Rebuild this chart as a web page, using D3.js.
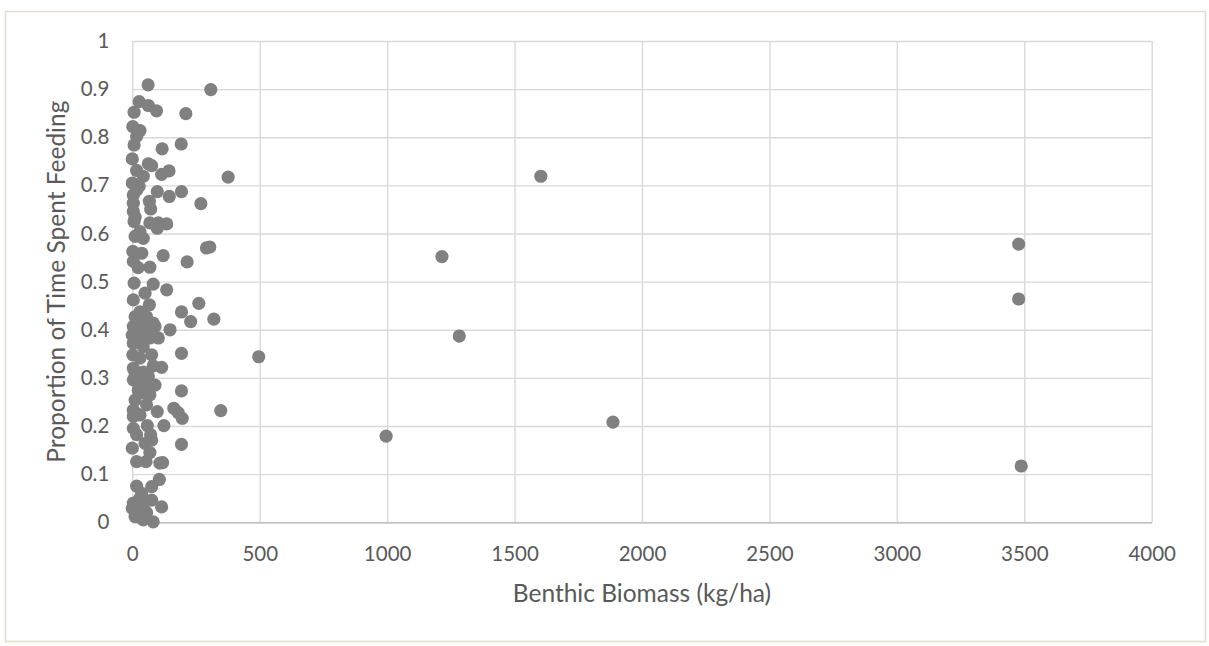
<!DOCTYPE html>
<html>
<head>
<meta charset="utf-8">
<script src="https://cdn.jsdelivr.net/npm/d3@7/dist/d3.min.js"></script>
<style>
  html, body { margin: 0; padding: 0; background: #ffffff; }
  svg { display: block; }
  text { font-family: Lato, "Open Sans", sans-serif; fill: #595959; }
</style>
</head>
<body>
<svg id="chart" width="1209" height="646"></svg>
<script>
// Benthic biomass (kg/ha) at each observation
const biomass = [
  62, 308, 27, 63, 95, 7, 210, 2, 30, 17, 7, 117, 192, 0, 63, 76, 17, 144, 115, 43,
  376, 0, 27, 98, 193, 145, 4, 269, 4, 67, 72, 4, 7, 69, 102, 135, 98, 11, 43, 291,
  304, 2, 37, 121, 215, 4, 23, 69, 7, 82,
  135, 50, 4, 67, 261, 193, 229, 320, 11, 56, 82, 4, 148, 50, 0, 102, 30, 69, 4, 43,
  193, 496, 2, 76, 30, 115, 82, 4, 11, 4, 43, 89, 63, 193, 23, 69, 11, 56, 4, 98,
  163, 180, 196, 347, 30, 4, 59, 124, 4, 17, 72, 193, 50, 76, 0, 69, 17, 54, 108, 119,
  106, 17, 76, 37, 76, 4, 43, 115, 0, 30, 11, 43, 82,
  30, 63, 37, 56, 17, 89, 43, 63, 30, 50, 17, 11, 30, 30, 56, 17,
  1603, 1215, 1283, 996, 1886, 3478, 3478, 3488
];

// Proportion of time spent feeding for the same observations
const feeding = [
  0.909, 0.899, 0.874, 0.866, 0.855, 0.852, 0.849, 0.822, 0.814, 0.802, 0.784, 0.776, 0.786, 0.755, 0.745, 0.741, 0.731, 0.730, 0.723, 0.719,
  0.717, 0.705, 0.698, 0.687, 0.687, 0.677, 0.680, 0.662, 0.663, 0.667, 0.651, 0.646, 0.625, 0.622, 0.622, 0.620, 0.611, 0.594, 0.590, 0.570,
  0.572, 0.563, 0.559, 0.554, 0.541, 0.542, 0.529, 0.530, 0.497, 0.495,
  0.483, 0.476, 0.462, 0.452, 0.455, 0.437, 0.417, 0.422, 0.427, 0.427, 0.414, 0.407, 0.400, 0.400, 0.389, 0.383, 0.379, 0.383, 0.372, 0.365,
  0.351, 0.344, 0.348, 0.348, 0.341, 0.322, 0.325, 0.320, 0.310, 0.296, 0.299, 0.285, 0.279, 0.273, 0.275, 0.265, 0.254, 0.244, 0.233, 0.230,
  0.237, 0.228, 0.216, 0.232, 0.223, 0.220, 0.201, 0.201, 0.195, 0.182, 0.182, 0.162, 0.164, 0.171, 0.154, 0.145, 0.126, 0.126, 0.123, 0.124,
  0.089, 0.075, 0.074, 0.060, 0.046, 0.040, 0.036, 0.032, 0.029, 0.026, 0.012, 0.005, 0.001,
  0.437, 0.410, 0.395, 0.390, 0.414, 0.407, 0.312, 0.304, 0.288, 0.268, 0.690, 0.634, 0.604, 0.050, 0.020, 0.040,
  0.719, 0.552, 0.387, 0.179, 0.208, 0.578, 0.464, 0.117
];

const xTicks = [0, 500, 1000, 1500, 2000, 2500, 3000, 3500, 4000];
const yTicks = [0, 0.1, 0.2, 0.3, 0.4, 0.5, 0.6, 0.7, 0.8, 0.9, 1];

const xTitle = "Benthic Biomass (kg/ha)";
const yTitle = "Proportion of Time Spent Feeding";

const svg = d3.select("#chart");
const plot = { left: 132.3, right: 1151.7, top: 41, bottom: 522.3 };

// outer chart frame
svg.append("rect")
  .attr("x", 5.5).attr("y", 11.5)
  .attr("width", 1200).attr("height", 630)
  .attr("fill", "#ffffff")
  .attr("stroke", "#e2ddc8")
  .attr("stroke-width", 1.5);

const x = d3.scaleLinear().domain([0, 4000]).range([plot.left, plot.right]);
const y = d3.scaleLinear().domain([0, 1]).range([plot.bottom, plot.top]);

// vertical gridlines
svg.append("g")
  .attr("transform", `translate(0,${plot.bottom})`)
  .call(d3.axisBottom(x).tickValues(xTicks).tickSize(-(plot.bottom - plot.top)).tickFormat(""))
  .call(g => g.select(".domain").remove())
  .call(g => g.selectAll("line").attr("stroke", "#d9d9d9").attr("stroke-width", 1.4));

// horizontal gridlines
svg.append("g")
  .attr("transform", `translate(${plot.left},0)`)
  .call(d3.axisLeft(y).tickValues(yTicks).tickSize(-(plot.right - plot.left)).tickFormat(""))
  .call(g => g.select(".domain").remove())
  .call(g => g.selectAll("line").attr("stroke", "#d9d9d9").attr("stroke-width", 1.4));

// horizontal axis line and tick labels
const xAxis = svg.append("g")
  .attr("transform", `translate(0,${plot.bottom})`)
  .call(d3.axisBottom(x).tickValues(xTicks).tickSize(0).tickPadding(24).tickFormat(d3.format("d")));
xAxis.select(".domain").attr("stroke", "#bfbfbf").attr("stroke-width", 1.4);
xAxis.selectAll("text")
  .attr("font-size", 20.5)
  .attr("font-family", "Lato, 'Open Sans', sans-serif")
  .attr("fill", "#595959");

// vertical axis tick labels
const yAxis = svg.append("g")
  .attr("transform", `translate(${plot.left},0)`)
  .call(d3.axisLeft(y).tickValues(yTicks).tickSize(0).tickPadding(23).tickFormat(d => d3.format("~g")(d)));
yAxis.select(".domain").remove();
yAxis.selectAll("text")
  .attr("font-size", 20.5)
  .attr("font-family", "Lato, 'Open Sans', sans-serif")
  .attr("fill", "#595959");

// data points
const points = biomass.map((b, i) => ({ b, f: feeding[i] }));
svg.append("g")
  .selectAll("circle")
  .data(points)
  .join("circle")
  .attr("cx", d => x(d.b))
  .attr("cy", d => y(d.f))
  .attr("r", 6.6)
  .attr("fill", "#808080");

// axis titles
svg.append("text")
  .attr("x", (plot.left + plot.right) / 2)
  .attr("y", 601.5)
  .attr("text-anchor", "middle")
  .attr("font-size", 24.5)
  .text(xTitle);

svg.append("text")
  .attr("transform", `translate(65,${(plot.top + plot.bottom) / 2}) rotate(-90)`)
  .attr("text-anchor", "middle")
  .attr("font-size", 24.5)
  .text(yTitle);
</script>
</body>
</html>
